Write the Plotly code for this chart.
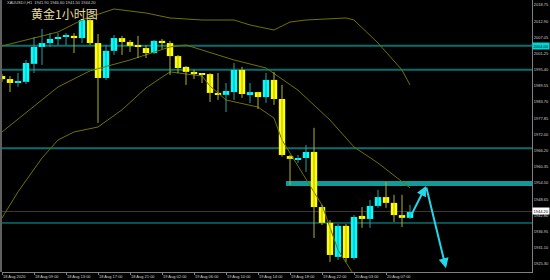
import plotly.graph_objects as go

# ---- candle data (H1 bars, index 0..51) ----
opens  = [1993.1,1992.0,1990.6,1991.0,1997.5,2003.6,2005.0,2006.5,2007.2,2007.6,
          2006.8,2013.3,2005.0,1992.4,2002.2,2006.8,2005.4,2004.0,2003.2,2001.4,
          2005.8,2005.0,2000.3,1996.4,1994.6,1993.8,1993.8,1987.0,1986.3,1987.3,
          1995.3,1986.6,1987.3,1985.5,1991.7,1984.8,1964.2,1962.8,1963.5,1965.7,
          1945.8,1940.1,1927.8,1939.0,1927.4,1942.6,1941.5,1946.2,1949.4,1947.3,
          1942.9,1941.9]
highs  = [1993.8,1993.1,1994.2,1998.9,2007.2,2010.1,2008.6,2008.6,2008.6,2008.6,
          2013.7,2013.9,2008.3,2004.3,2007.9,2007.6,2006.1,2007.6,2004.3,2006.1,
          2006.5,2005.8,2000.7,1996.7,1995.3,1994.2,1994.2,1994.2,1990.6,1997.8,
          1996.4,1990.6,1987.4,1994.2,1994.6,1989.9,1964.6,1964.6,1968.2,1974.4,
          1946.6,1941.1,1939.7,1939.7,1942.9,1945.8,1948.4,1952.0,1954.9,1950.2,
          1950.2,1946.6]
lows   = [1991.0,1987.3,1989.2,1990.2,1994.2,1997.1,2003.6,2004.3,2004.3,2001.4,
          2005.0,2004.3,1976.2,1991.7,2000.7,2000.7,2001.8,1999.6,1999.6,2001.1,
          2002.9,1993.5,1994.2,1989.9,1992.0,1990.6,1983.7,1984.5,1980.1,1984.5,
          1985.2,1983.4,1981.2,1983.4,1982.7,1964.0,1953.8,1961.7,1958.5,1934.6,
          1939.3,1926.0,1926.7,1926.0,1926.7,1938.3,1938.3,1945.5,1945.5,1940.4,
          1938.6,1941.5]
closes = [1992.0,1990.6,1991.0,1997.8,2003.6,2005.0,2006.5,2007.2,2007.6,2006.8,
          2013.3,2005.0,1992.4,2002.2,2006.8,2005.4,2004.0,2003.6,2001.4,2005.8,
          2005.0,2000.3,1996.0,1994.6,1993.8,1993.5,1987.0,1986.3,1987.7,1995.3,
          1986.6,1987.3,1985.5,1991.7,1984.8,1964.6,1963.2,1963.5,1965.7,1945.8,
          1940.1,1928.5,1939.0,1927.4,1942.2,1941.5,1946.2,1949.4,1947.3,1942.9,
          1941.9,1944.0]

# ---- Bollinger bands (bar index, price) ----
bb_upper_idx = [0,4,7,10,11,14,18,21,25,29,31,34,36,38,43,44,47,50,51]
bb_upper     = [2003.95,2006.84,2009.0,2013.33,2014.42,2017.3,2015.86,2014.06,2013.33,
                2013.33,2011.53,2009.72,2012.6,2013.33,2014.06,2013.33,2005.03,1995.28,1989.87]
bb_mid_idx   = [0,5,7,11,16,21,23,25,29,33,37,41,44,47,51]
bb_mid       = [1972.9,1984.45,1989.15,1994.97,1998.9,2003.6,2004.3,2002.5,1998.9,1996.0,
                1988.0,1977.2,1967.5,1961.7,1952.7]
bb_lower_idx = [0,2,5,7,9,12,15,18,21,25,26,28,32,34,35,40,42,44]
bb_lower     = [1941.85,1951.3,1963.5,1970.0,1972.9,1974.7,1980.9,1988.8,1994.6,1993.1,
                1989.5,1984.45,1981.9,1977.9,1970.0,1946.5,1930.3,1921.3]

# ---- axes ----
x_tick_idx  = [0,4,8,12,16,20,24,28,32,36,40,44,48]
x_tick_text = ["18 Aug 2020","18 Aug 09:00","18 Aug 13:00","18 Aug 17:00","18 Aug 21:00",
               "19 Aug 02:00","19 Aug 06:00","19 Aug 10:00","19 Aug 14:00","19 Aug 18:00",
               "19 Aug 22:00","20 Aug 03:00","20 Aug 07:00"]
y_tick_vals = [2018.75,2012.90,2007.05,2001.25,1995.40,1989.55,1983.70,1977.85,1972.00,
               1966.20,1960.35,1954.50,1948.65,1942.80,1936.95,1931.10,1925.30]
y_tick_text = ["%.2f" % v for v in y_tick_vals]

# ---- levels / drawings ----
levels_thick = [2004.0, 1995.4, 1967.0]
level_thin = 1940.05
zone_low, zone_high, zone_start = 1953.4, 1955.2, 35.5
current_price = 1944.20
marked_price = 2004.00
path_x = [51.1, 53.0, 55.5]
path_y = [1942.6, 1953.4, 1923.7]
title_text = "XAUUSD#,H1  1941.90 1946.60 1941.50 1944.20"
cn_title = "黄金1小时图"

X_MAX = 66.25
Y_MIN, Y_MAX = 1922.35, 2020.55

idx = list(range(len(opens)))
UP_FILL, DN_FILL = "#00ffff", "#ffff00"
UP_WICK, DN_WICK = "#2aa0a0", "#b0b030"

fig = go.Figure()

# Bollinger bands
for xs, ys in [(bb_upper_idx, bb_upper), (bb_mid_idx, bb_mid), (bb_lower_idx, bb_lower)]:
    fig.add_trace(go.Scatter(x=xs, y=ys, mode="lines",
                             line=dict(color="#727200", width=1), hoverinfo="skip"))

# wicks
for up in (True, False):
    wx, wy = [], []
    for i in idx:
        if (closes[i] >= opens[i]) == up:
            wx += [i, i, None]
            wy += [lows[i], highs[i], None]
    fig.add_trace(go.Scatter(x=wx, y=wy, mode="lines",
                             line=dict(color=UP_WICK if up else DN_WICK, width=1),
                             hoverinfo="skip"))

# bodies
base = [min(o, c) for o, c in zip(opens, closes)]
height = [max(abs(c - o), 0.35) for o, c in zip(opens, closes)]
colors = [UP_FILL if c >= o else DN_FILL for o, c in zip(opens, closes)]
fig.add_trace(go.Bar(x=idx, y=height, base=base, width=0.8,
                     marker=dict(color=colors, line=dict(width=0))))

shapes = []
for lv in levels_thick:
    shapes.append(dict(type="line", xref="x", yref="y", x0=0, x1=X_MAX, y0=lv, y1=lv,
                       line=dict(color="#0a6e6e", width=2), layer="below"))
shapes.append(dict(type="line", xref="x", yref="y", x0=0, x1=X_MAX, y0=level_thin, y1=level_thin,
                   line=dict(color="#12a2a2", width=1), layer="below"))
shapes.append(dict(type="line", xref="x", yref="y", x0=0, x1=X_MAX, y0=current_price, y1=current_price,
                   line=dict(color="#3a3a3a", width=1), layer="below"))
shapes.append(dict(type="rect", xref="x", yref="y", x0=zone_start, x1=X_MAX, y0=zone_low, y1=zone_high,
                   fillcolor="#119a9a", line=dict(width=0), layer="below"))
shapes.append(dict(type="line", xref="paper", yref="paper", x0=-1/530, x1=-1/530, y0=0, y1=1,
                   line=dict(color="#808080", width=1.5)))

annotations = [
    dict(x=path_x[1], y=path_y[1], ax=path_x[0], ay=path_y[0], xref="x", yref="y",
         axref="x", ayref="y", showarrow=True, arrowhead=2, arrowsize=1, arrowwidth=2,
         arrowcolor="#22d8ea", text=""),
    dict(x=path_x[2], y=path_y[2], ax=path_x[1], ay=path_y[1], xref="x", yref="y",
         axref="x", ayref="y", showarrow=True, arrowhead=2, arrowsize=1, arrowwidth=2,
         arrowcolor="#22d8ea", text=""),
    dict(x=1, y=marked_price, xref="paper", yref="y", xanchor="left", yanchor="middle",
         text="%.2f" % marked_price, showarrow=False, bgcolor="#00d8d8", borderpad=0.5,
         font=dict(size=4, color="#000000", family="Liberation Sans")),
    dict(x=1, y=current_price, xref="paper", yref="y", xanchor="left", yanchor="middle",
         text="%.2f" % current_price, showarrow=False, bgcolor="#ffffff", borderpad=0.5,
         font=dict(size=4, color="#000000", family="Liberation Sans")),
    dict(x=3/530, y=1 - 2.5/272, xref="paper", yref="paper", xanchor="left", yanchor="middle",
         text=title_text, showarrow=False,
         font=dict(size=4, color="#d0d0d0", family="Liberation Sans")),
    dict(x=27/530, y=1 - 13/272, xref="paper", yref="paper", xanchor="left", yanchor="middle",
         text=cn_title, showarrow=False,
         font=dict(size=12, color="#e6dc9c", family="Noto Sans CJK SC")),
]

fig.update_layout(
    width=550, height=280, margin=dict(l=2, r=18, t=0, b=8),
    paper_bgcolor="#000000", plot_bgcolor="#000000",
    showlegend=False, barmode="overlay",
    shapes=shapes, annotations=annotations,
    xaxis=dict(range=[0, X_MAX], showgrid=False, zeroline=False, showline=True,
               linecolor="#808080", linewidth=1, ticks="outside", ticklen=2,
               tickcolor="#808080", tickvals=x_tick_idx, ticktext=x_tick_text,
               ticklabelposition="outside right", tickangle=0,
               tickfont=dict(size=4, color="#d0d0d0", family="Liberation Sans")),
    yaxis=dict(range=[Y_MIN, Y_MAX], side="right", showgrid=False, zeroline=False,
               showline=True, linecolor="#808080", linewidth=1, ticks="",
               tickvals=y_tick_vals, ticktext=y_tick_text,
               tickfont=dict(size=4, color="#d0d0d0", family="Liberation Sans")),
)

fig.write_html("out.html")
